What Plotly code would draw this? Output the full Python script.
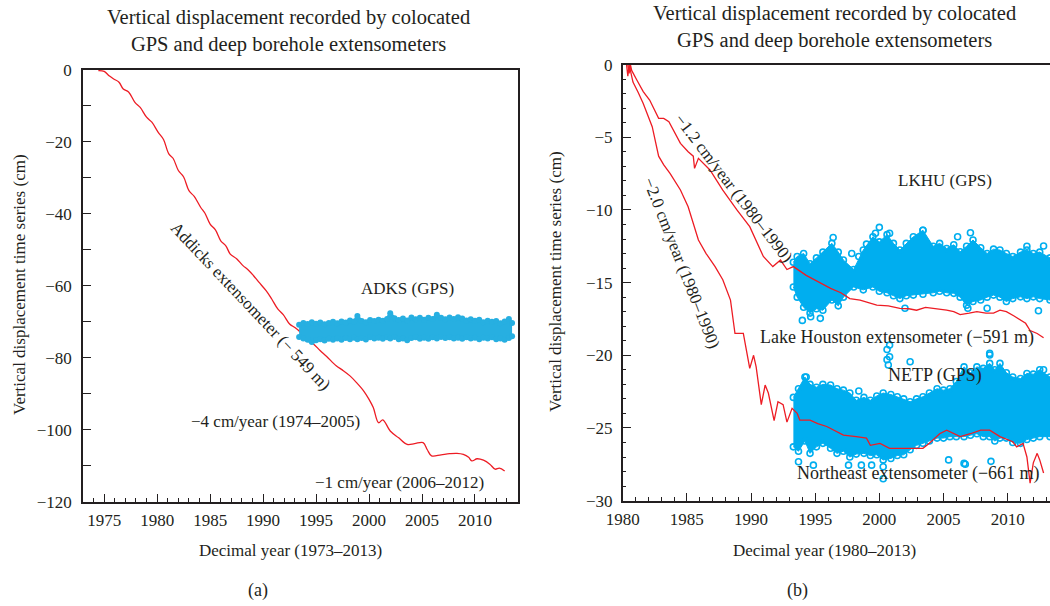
import plotly.graph_objects as go

W, H = 1050, 606

# ---------------- Panel (a) data ----------------
addicks_year = [1974.45, 1975.0, 1975.5, 1975.9, 1976.4, 1976.8, 1977.3, 1977.9, 1978.4, 1979.0,
                1979.5, 1980.1, 1980.6, 1981.1, 1981.5, 1982.0, 1982.5, 1983.0, 1983.5, 1984.1,
                1984.5, 1985.0, 1985.5, 1986.0, 1986.5, 1986.9, 1987.5, 1988.1, 1988.6, 1989.1,
                1989.6, 1990.3, 1990.8, 1991.4, 1991.9, 1992.5, 1993.0, 1993.5, 1994.1, 1994.7,
                1995.4, 1996.0, 1996.9, 1997.5, 1998.2, 1998.8, 1999.5, 2000.0, 2000.4, 2000.9,
                2001.3, 2002.0, 2002.8, 2003.6, 2004.3, 2005.1, 2005.5, 2005.9, 2006.8, 2007.6,
                2008.3, 2008.9, 2009.4, 2009.7, 2010.2, 2010.8, 2011.4, 2011.9, 2012.3, 2012.8]
addicks_cm = [-0.3, -0.5, -1.8, -2.6, -3.5, -5.4, -6.2, -9.1, -10.5, -13.2,
              -14.6, -17.4, -19.4, -23.4, -24.6, -28.0, -29.8, -33.6, -35.2, -38.2,
              -39.8, -42.9, -44.5, -47.5, -49.0, -51.2, -52.5, -54.4, -55.6, -57.2,
              -59.0, -61.4, -63.6, -66.5, -68.0, -70.6, -71.6, -72.8, -74.8, -76.0,
              -78.0, -79.6, -82.2, -83.4, -85.0, -86.8, -89.2, -91.5, -93.8, -98.0,
              -97.2, -100.3, -102.2, -104.0, -103.8, -103.5, -105.5, -107.2, -106.9, -106.6,
              -106.5, -106.8, -107.6, -108.6, -108.0, -108.4, -109.5, -110.9, -110.6, -111.4]

adks_year = [1993.4, 1993.8, 1994.2, 1994.6, 1995.0, 1995.4, 1995.8, 1996.2, 1996.6, 1997.0,
             1997.4, 1997.8, 1998.2, 1998.6, 1998.9, 1999.3, 1999.7, 2000.1, 2000.5, 2000.9,
             2001.3, 2001.7, 2002.0, 2002.4, 2002.8, 2003.2, 2003.6, 2004.0, 2004.4, 2004.8,
             2005.2, 2005.6, 2006.0, 2006.4, 2006.8, 2007.2, 2007.6, 2008.0, 2008.4, 2008.8,
             2009.2, 2009.6, 2010.0, 2010.4, 2010.8, 2011.2, 2011.6, 2012.0, 2012.4, 2012.8,
             2013.2, 2013.5]
adks_upper_cm = [-70.8, -70.3, -70.6, -70.1, -70.5, -70.2, -70.7, -70.3, -70.0, -70.4,
                 -69.9, -70.2, -69.6, -69.9, -68.4, -69.8, -70.1, -69.5, -69.8, -69.4,
                 -69.7, -69.2, -67.6, -69.0, -69.5, -69.1, -69.6, -68.8, -69.3, -68.9,
                 -69.4, -68.9, -69.2, -68.0, -68.9, -69.3, -68.8, -69.2, -68.7, -69.1,
                 -69.6, -69.3, -69.7, -69.4, -70.1, -69.7, -70.0, -69.8, -70.4, -69.9,
                 -69.2, -70.3]
adks_lower_cm = [-74.2, -74.6, -75.0, -75.6, -75.1, -74.8, -75.2, -74.7, -75.0, -74.6,
                 -75.0, -74.5, -74.8, -74.4, -74.8, -74.5, -74.9, -74.3, -74.6, -74.4,
                 -74.7, -74.3, -74.6, -74.2, -74.8, -74.6, -75.1, -74.5, -74.3, -74.7,
                 -74.4, -74.7, -74.3, -74.6, -74.2, -74.5, -74.3, -74.6, -74.4, -74.7,
                 -74.3, -74.6, -74.4, -74.8, -74.4, -74.6, -74.3, -74.8, -74.6, -75.0,
                 -74.5, -74.0]

# ---------------- Panel (b) data ----------------
lakehouston_year = [1980.4, 1980.5, 1980.6, 1980.7, 1981.1, 1981.6, 1982.1, 1982.8, 1983.2, 1983.6,
                    1984.5, 1985.1, 1985.5, 1985.6, 1985.9, 1986.8, 1987.8, 1988.9, 1989.9, 1990.96,
                    1991.7, 1992.3, 1992.8, 1993.3, 1994.3, 1995.4, 1996.2, 1997.0, 1997.7, 1998.5,
                    1999.2, 1999.8, 2000.7, 2001.6, 2002.3, 2002.9, 2003.6, 2004.2, 2004.8, 2005.25,
                    2005.8, 2006.3, 2007.0, 2007.6, 2008.3, 2008.9, 2009.4, 2009.9, 2010.5, 2011.0,
                    2011.4, 2011.75, 2012.3, 2012.8]
lakehouston_cm = [0.0, -0.6, 0.0, -0.4, -1.06, -1.86, -2.44, -3.7, -3.7, -3.93,
                  -5.42, -6.0, -6.3, -7.14, -6.45, -7.25, -8.63, -10.0, -11.15, -13.2,
                  -13.9, -13.45, -14.1, -13.9, -14.5, -15.05, -15.4, -15.7, -16.1, -16.2,
                  -16.4, -16.55, -16.6, -16.77, -16.8, -16.9, -16.7, -16.77, -16.8, -16.9,
                  -17.0, -17.2, -17.1, -17.0, -17.1, -17.1, -16.9, -17.0, -17.3, -17.6,
                  -17.8, -18.3, -18.5, -18.8]

northeast_year = [1980.3, 1980.4, 1980.5, 1980.8, 1981.2, 1981.6, 1982.3, 1982.8, 1983.2, 1983.7,
                  1984.5, 1985.1, 1985.9, 1986.5, 1987.2, 1987.8, 1988.4, 1988.75, 1989.4, 1989.5,
                  1989.9, 1990.2, 1990.4, 1990.8, 1991.1, 1991.35, 1991.8, 1992.1, 1992.5, 1992.8,
                  1993.2, 1993.6, 1993.8, 1994.6, 1995.2, 1995.9, 1996.5, 1997.2, 1998.2, 1999.0,
                  1999.3, 2000.05, 2000.8, 2001.6, 2002.65, 2003.4, 2003.9, 2004.7, 2005.25, 2005.8,
                  2006.3, 2007.1, 2007.9, 2008.6, 2009.4, 2010.4, 2010.7, 2011.2, 2011.5, 2011.75,
                  2012.0, 2012.3, 2012.5, 2012.8]
northeast_cm = [0.0, -0.8, 0.0, -1.2, -1.9, -2.67, -4.27, -6.3, -6.9, -7.5,
                -8.63, -9.78, -12.07, -13.0, -13.9, -14.8, -16.2, -18.5, -18.5, -18.95,
                -20.9, -20.0, -20.8, -23.4, -22.05, -22.6, -24.5, -23.2, -23.4, -24.6,
                -23.65, -24.0, -24.46, -24.46, -24.7, -24.9, -25.2, -25.5, -25.6, -25.7,
                -26.2, -26.06, -26.4, -26.4, -26.4, -26.4, -26.06, -25.4, -25.15, -25.4,
                -25.6, -25.4, -25.15, -25.15, -25.6, -25.95, -26.3, -26.06, -27.0, -28.8,
                -27.4, -26.75, -27.2, -28.1]

lkhu_year = [1993.3, 1993.6, 1994.1, 1994.6, 1995.1, 1995.6, 1996.3, 1996.8, 1997.2, 1998.0,
             1998.75, 1999.5, 2000.0, 2000.6, 2001.1, 2001.6, 2002.1, 2002.65, 2003.4, 2004.2,
             2004.7, 2005.25, 2005.8, 2006.3, 2006.8, 2007.3, 2007.9, 2008.4, 2008.9, 2009.4,
             2009.9, 2010.4, 2011.0, 2011.5, 2012.0, 2012.5, 2013.3]
lkhu_upper_cm = [-13.6, -13.2, -13.0, -13.7, -13.3, -12.9, -12.3, -12.9, -13.45, -14.1,
                 -12.76, -11.85, -12.2, -11.7, -12.3, -12.76, -12.3, -11.85, -11.4, -12.5,
                 -12.3, -12.65, -12.4, -12.88, -12.5, -12.07, -12.6, -13.0, -12.7, -12.76,
                 -13.0, -13.2, -12.9, -12.76, -13.0, -12.9, -13.3]
lkhu_lower_cm = [-15.3, -16.0, -16.7, -17.1, -16.8, -16.9, -16.2, -16.6, -16.0, -15.3,
                 -15.5, -15.3, -15.6, -15.7, -15.9, -16.1, -15.9, -15.86, -15.8, -15.7,
                 -15.6, -15.7, -15.74, -16.0, -16.55, -16.3, -16.2, -16.0, -15.86, -16.0,
                 -16.3, -16.1, -15.98, -16.1, -15.98, -16.1, -16.2]
lkhu_out_year = [1994.65, 1995.4, 1994.0, 1997.85, 1998.4, 1999.0, 1999.7, 2000.8, 2003.4, 2006.1,
                 2007.1, 2011.5, 2012.8, 2012.4, 2008.4, 2006.9, 2002.0, 2000.8, 2000.8, 2008.6,
                 1996.4, 2000.0]
lkhu_out_cm = [-17.35, -17.46, -17.6, -13.0, -13.2, -12.35, -11.6, -11.6, -11.4, -11.85,
               -11.57, -12.5, -12.48, -16.94, -16.77, -16.77, -16.77, -19.3, -20.1, -19.98,
               -11.9, -11.2]

netp_year = [1993.3, 1993.7, 1994.2, 1994.6, 1995.1, 1995.6, 1996.2, 1996.7, 1997.2, 1997.7,
             1998.2, 1998.8, 1999.3, 1999.8, 2000.3, 2000.9, 2001.4, 2001.9, 2002.4, 2002.9,
             2003.4, 2003.9, 2004.5, 2005.0, 2005.5, 2006.0, 2006.6, 2007.1, 2007.6, 2008.1,
             2008.6, 2009.0, 2009.4, 2009.9, 2010.4, 2011.0, 2011.5, 2012.0, 2012.5, 2013.3]
netp_upper_cm = [-22.9, -22.3, -21.5, -22.0, -22.2, -22.0, -22.05, -22.3, -22.4, -22.6,
                 -23.1, -22.9, -23.1, -22.8, -22.6, -22.7, -22.85, -23.0, -23.2, -23.0,
                 -22.85, -22.6, -22.3, -22.4, -22.3, -21.8, -20.8, -21.2, -20.8, -20.9,
                 -20.56, -21.0, -20.56, -21.2, -21.5, -21.6, -21.25, -21.3, -21.0, -21.5]
netp_lower_cm = [-26.3, -26.6, -25.9, -26.75, -26.3, -26.06, -26.4, -26.75, -26.6, -27.0,
                 -26.8, -26.75, -26.9, -26.85, -27.2, -27.1, -26.9, -26.85, -26.5, -26.2,
                 -26.06, -25.9, -25.7, -25.7, -25.6, -25.6, -25.6, -25.5, -25.4, -25.6,
                 -25.6, -25.9, -25.7, -25.7, -26.0, -26.06, -25.8, -25.7, -25.6, -25.6]
netp_out_year = [2000.6, 2000.6, 2000.7, 2002.4, 2008.6, 2012.8, 1994.3, 1998.4, 1993.7, 1994.86,
                 1997.6, 1998.6, 1999.4, 2000.3, 2000.3, 2005.4, 2006.7, 2008.7, 2006.6]
netp_out_cm = [-19.6, -20.3, -20.67, -20.45, -19.87, -21.0, -21.5, -22.46, -27.33, -27.56,
               -27.56, -27.56, -27.56, -27.67, -28.5, -27.2, -27.5, -27.3, -27.44]

# ---------------- styles ----------------
RED = "#ED1C24"
CYAN_A = "#27AFE1"
CYAN_B = "#00AEEF"
FONT = "Liberation Serif"
TXT = "#231F20"

fig = go.Figure()

# Panel (a)
fig.add_trace(go.Scatter(x=addicks_year, y=addicks_cm, mode="lines",
                         line=dict(color=RED, width=1.3, shape="spline"),
                         xaxis="x", yaxis="y", showlegend=False))
dot_a = dict(symbol="circle", size=6, color=CYAN_A)
fig.add_trace(go.Scatter(x=adks_year, y=adks_lower_cm, mode="lines+markers", marker=dot_a,
                         line=dict(color=CYAN_A, width=3),
                         xaxis="x", yaxis="y", showlegend=False))
fig.add_trace(go.Scatter(x=adks_year, y=adks_upper_cm, mode="lines+markers", marker=dot_a,
                         line=dict(color=CYAN_A, width=3),
                         fill="tonexty", fillcolor=CYAN_A,
                         xaxis="x", yaxis="y", showlegend=False))

# Panel (b) GPS bands
circ = dict(symbol="circle-open", size=6, color=CYAN_B, line=dict(width=1.6, color=CYAN_B))
for yrs, lo, up in [(netp_year, netp_lower_cm, netp_upper_cm),
                    (lkhu_year, lkhu_lower_cm, lkhu_upper_cm)]:
    fig.add_trace(go.Scatter(x=yrs, y=lo, mode="lines+markers", marker=circ,
                             line=dict(color=CYAN_B, width=1),
                             xaxis="x2", yaxis="y2", showlegend=False))
    fig.add_trace(go.Scatter(x=yrs, y=up, mode="lines+markers", marker=circ,
                             line=dict(color=CYAN_B, width=1),
                             fill="tonexty", fillcolor=CYAN_B,
                             xaxis="x2", yaxis="y2", showlegend=False))
fig.add_trace(go.Scatter(x=lkhu_out_year, y=lkhu_out_cm, mode="markers", marker=circ,
                         xaxis="x2", yaxis="y2", showlegend=False))
fig.add_trace(go.Scatter(x=netp_out_year, y=netp_out_cm, mode="markers", marker=circ,
                         xaxis="x2", yaxis="y2", showlegend=False))
fig.add_trace(go.Scatter(x=lakehouston_year, y=lakehouston_cm, mode="lines",
                         line=dict(color=RED, width=1.3),
                         xaxis="x2", yaxis="y2", showlegend=False))
fig.add_trace(go.Scatter(x=northeast_year, y=northeast_cm, mode="lines",
                         line=dict(color=RED, width=1.3),
                         xaxis="x2", yaxis="y2", showlegend=False))


def px(xp, yp):
    return xp / W, 1 - yp / H


tickfont = dict(family=FONT, size=17, color=TXT)
common = dict(showline=True, linecolor="#231F20", linewidth=1.5, showgrid=False,
              zeroline=False, ticks="inside", tickcolor="#231F20", tickwidth=1.2,
              tickfont=tickfont, automargin=False)

fig.update_layout(
    template="none",
    width=W, height=H,
    margin=dict(l=0, r=0, t=0, b=0, autoexpand=False),
    paper_bgcolor="white", plot_bgcolor="white",
    font=dict(family=FONT, color=TXT),
    xaxis=dict(domain=[83 / W, 518 / W], range=[1973, 2014.06], anchor="y", mirror=True,
               dtick=5, tick0=1975, ticklen=8, ticklabelstandoff=2,
               minor=dict(ticks="inside", dtick=1, tick0=1973, ticklen=4, tickcolor="#231F20", tickwidth=1.1),
               **common),
    yaxis=dict(domain=[1 - 502 / H, 1 - 69.6 / H], range=[-120, 0], anchor="x", mirror=True,
               dtick=20, ticklen=8, ticklabelstandoff=6,
               minor=dict(ticks="inside", dtick=10, ticklen=8, tickcolor="#231F20", tickwidth=1.1),
               **common),
    xaxis2=dict(domain=[622.7 / W, 1.0], range=[1980, 2013.3], anchor="y2", mirror=True,
                dtick=5, tick0=1980, ticklen=8, ticklabelstandoff=2,
                minor=dict(ticks="inside", dtick=1, tick0=1980, ticklen=4, tickcolor="#231F20", tickwidth=1.1),
                **common),
    yaxis2=dict(domain=[1 - 500.6 / H, 1 - 64.6 / H], range=[-30, 0], anchor="x2", mirror=False,
                dtick=5, ticklen=9, ticklabelstandoff=5,
                minor=dict(ticks="inside", dtick=1, ticklen=4, tickcolor="#231F20", tickwidth=1.1),
                **common),
)

ann = []


def add_text(text, xp, yp, size=16, angle=0):
    x, y = px(xp, yp)
    ann.append(dict(text=text, x=x, y=y, xref="paper", yref="paper", showarrow=False,
                    xanchor="center", yanchor="middle", textangle=angle,
                    font=dict(family=FONT, size=size, color=TXT)))


title = "Vertical displacement recorded by colocated<br>GPS and deep borehole extensometers"
add_text(title, 288, 31, size=20.5)
add_text(title, 834, 27, size=20.5)
add_text("Decimal year (1973–2013)", 290, 550, size=17)
add_text("Decimal year (1980–2013)", 824, 550, size=17)
add_text("(a)", 258, 590, size=18)
add_text("(b)", 797, 590, size=18)
add_text("Vertical displacement time series (cm)", 19, 285, size=17, angle=-90)
add_text("Vertical displacement time series (cm)", 555, 282, size=17, angle=-90)

add_text("ADKS (GPS)", 407, 288, size=17)
add_text("Addicks extensometer (− 549 m)", 251, 306, size=17, angle=46.6)
add_text("−4 cm/year (1974–2005)", 275, 421, size=17)
add_text("−1 cm/year (2006–2012)", 399, 482, size=17)

add_text("LKHU (GPS)", 945, 180, size=17)
add_text("−1.2 cm/year (1980–1990)", 734, 188, size=17, angle=52.5)
add_text("−2.0 cm/year (1980–1990)", 682, 263, size=17, angle=68.5)
add_text("Lake Houston extensometer (−591 m)", 897, 337, size=18)
add_text("NETP (GPS)", 935, 375, size=18)
add_text("Northeast extensometer (−661 m)", 918, 473, size=18)

fig.update_layout(annotations=ann)

fig.write_html("out.html")
